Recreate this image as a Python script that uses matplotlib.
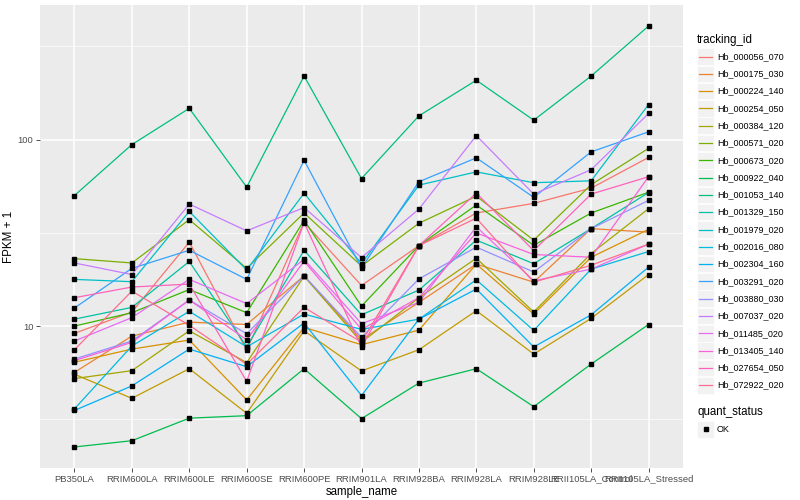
import numpy as np
import matplotlib
matplotlib.use("Agg")
import matplotlib.pyplot as plt
from matplotlib.patches import Rectangle
from matplotlib.lines import Line2D

plt.rcParams['font.family'] = ['Liberation Sans', 'DejaVu Sans']

samples = ["PB350LA", "RRIM600LA", "RRIM600LE", "RRIM600SE", "RRIM600PE",
           "RRIM901LA", "RRIM928BA", "RRIM928LA", "RRIM928LE",
           "RRII105LA_Control", "RRII105LA_Stressed"]

tracking_ids = ["Hb_000056_070", "Hb_000175_030", "Hb_000224_140", "Hb_000254_050",
                "Hb_000384_120", "Hb_000571_020", "Hb_000673_020", "Hb_000922_040",
                "Hb_001053_140", "Hb_001329_150", "Hb_001979_020", "Hb_002016_080",
                "Hb_002304_160", "Hb_003291_020", "Hb_003880_030", "Hb_007037_020",
                "Hb_011485_020", "Hb_013405_140", "Hb_027654_050", "Hb_072922_020"]

Hb_000056_070 = [9.14, 11.9, 28.2, 7.44, 36.0, 16.5, 27.0, 40.4, 45.5, 54.9, 80.2]
Hb_000175_030 = [5.65, 8.84, 10.5, 10.2, 18.6, 8.45, 13.4, 21.5, 17.2, 33.3, 31.9]
Hb_000224_140 = [6.40, 7.53, 8.42, 4.02, 9.84, 7.95, 9.52, 21.5, 11.6, 23.4, 33.0]
Hb_000254_050 = [5.52, 4.10, 5.91, 3.41, 9.44, 5.75, 7.47, 12.1, 7.08, 11.0, 18.9]
Hb_000384_120 = [5.23, 5.77, 9.44, 6.37, 18.5, 8.19, 14.2, 23.1, 11.9, 24.5, 42.6]
Hb_000571_020 = [23.0, 21.8, 37.2, 20.4, 40.4, 21.0, 35.6, 49.7, 28.9, 57.3, 89.7]
Hb_000673_020 = [10.0, 11.8, 15.7, 11.8, 36.9, 12.8, 27.0, 44.6, 27.1, 40.4, 52.2]
Hb_000922_040 = [2.25, 2.43, 3.21, 3.31, 5.91, 3.19, 4.95, 5.91, 3.70, 6.26, 10.2]
Hb_001053_140 = [50.1, 94.0, 147.0, 55.6, 219.0, 61.8, 134.0, 208.0, 127.0, 219.0, 406.0]
Hb_001329_150 = [10.9, 12.6, 22.2, 7.74, 25.5, 11.5, 15.6, 28.9, 21.6, 33.3, 52.0]
Hb_001979_020 = [17.8, 17.3, 41.2, 20.0, 51.6, 21.6, 57.0, 67.1, 58.7, 60.1, 154.0]
Hb_002016_080 = [3.60, 7.82, 12.0, 7.74, 11.6, 9.6, 10.9, 17.7, 9.48, 20.2, 25.1]
Hb_002304_160 = [3.53, 4.78, 7.53, 6.06, 10.4, 4.24, 10.9, 15.8, 7.73, 11.5, 20.7]
Hb_003291_020 = [12.5, 20.4, 25.5, 17.8, 77.4, 20.5, 59.4, 79.8, 49.0, 85.9, 110.0]
Hb_003880_030 = [6.66, 8.32, 13.8, 9.1, 18.6, 8.7, 17.9, 26.5, 19.5, 33.3, 47.2]
Hb_007037_020 = [21.8, 18.9, 45.1, 32.4, 43.2, 23.3, 42.4, 105.0, 51.0, 68.9, 138.0]
Hb_011485_020 = [8.32, 11.1, 17.8, 13.2, 22.8, 10.3, 13.4, 34.1, 17.5, 20.2, 27.5]
Hb_013405_140 = [6.53, 8.18, 13.8, 8.45, 22.3, 9.6, 14.2, 31.6, 24.2, 23.4, 63.2]
Hb_027654_050 = [14.2, 16.2, 16.8, 5.06, 35.9, 7.73, 27.0, 51.6, 25.4, 51.0, 63.2]
Hb_072922_020 = [7.47, 15.4, 10.1, 6.24, 12.6, 8.2, 27.0, 37.9, 17.2, 21.2, 27.5]

series = [Hb_000056_070, Hb_000175_030, Hb_000224_140, Hb_000254_050, Hb_000384_120,
          Hb_000571_020, Hb_000673_020, Hb_000922_040, Hb_001053_140, Hb_001329_150,
          Hb_001979_020, Hb_002016_080, Hb_002304_160, Hb_003291_020, Hb_003880_030,
          Hb_007037_020, Hb_011485_020, Hb_013405_140, Hb_027654_050, Hb_072922_020]

colors = ["#F8766D", "#EA8331", "#D89000", "#C09B00", "#A3A500", "#7CAE00", "#39B600",
          "#00BB4E", "#00BF7D", "#00C1A3", "#00BFC4", "#00BAE0", "#00B0F6", "#35A2FF",
          "#9590FF", "#C77CFF", "#E76BF3", "#FA62DB", "#FF62BC", "#FF6C91"]

W, H = 800, 500
fig = plt.figure(figsize=(8, 5), dpi=100)
pl, pr, pt, pb = 40, 683, 5, 468
ax = fig.add_axes([pl / W, 1 - pb / H, (pr - pl) / W, (pb - pt) / H])
ax.set_facecolor("#EBEBEB")
for s in ax.spines.values():
    s.set_visible(False)

x = np.arange(len(samples))
for vals, c in zip(series, colors):
    ax.plot(x, vals, color=c, lw=0.9, zorder=3)
for vals in series:
    ax.plot(x, vals, ls="none", marker="s", ms=2.5, color="black", zorder=4)

ax.set_yscale("log")
lo, hi = np.log10(2.25), np.log10(406)
pad = 0.05 * (hi - lo)
ax.set_ylim(10 ** (lo - pad), 10 ** (hi + pad))
ax.set_xlim(-0.6, len(samples) - 0.4)

ax.set_yticks([10, 100])
ax.set_yticklabels(["10", "100"])
ax.set_yticks([10 ** 0.5, 10 ** 1.5, 10 ** 2.5], minor=True)
ax.yaxis.set_minor_formatter(matplotlib.ticker.NullFormatter())
ax.set_xticks(x)
ax.set_xticklabels(samples)
ax.grid(True, which="major", color="white", lw=1.1, zorder=0)
ax.grid(True, which="minor", axis="y", color="white", lw=0.5, zorder=0)
ax.set_axisbelow(True)
ax.tick_params(axis="both", which="major", length=2.8, width=0.6, color="#333333",
               labelsize=6.8, labelcolor="#4D4D4D", pad=2)
ax.tick_params(axis="y", which="minor", length=0)
ax.set_xlabel("sample_name", fontsize=8.3, labelpad=2)
ax.set_ylabel("FPKM + 1", fontsize=8.3, labelpad=2)

# legend
lax = fig.add_axes([0, 0, 1, 1], facecolor="none")
lax.set_xlim(0, W)
lax.set_ylim(H, 0)
lax.axis("off")
lax.text(697, 40, "tracking_id", fontsize=8.3, va="center", ha="left")
y0, dy = 56.5, 17.3
for i, (tid, c) in enumerate(zip(tracking_ids, colors)):
    yc = y0 + i * dy
    lax.add_patch(Rectangle((697, yc - 8.3), 17, 16.6, facecolor="#F2F2F2", edgecolor="white", lw=0.5))
    lax.add_line(Line2D([699, 712], [yc, yc], color=c, lw=0.9))
    lax.text(717, yc, tid, fontsize=6.5, va="center", ha="left")
lax.text(697, 412, "quant_status", fontsize=8.3, va="center", ha="left")
lax.add_patch(Rectangle((697, 421), 17, 16.6, facecolor="#F2F2F2", edgecolor="white", lw=0.5))
lax.plot([705.5], [429.3], marker="s", ms=2.5, color="black")
lax.text(717, 429.3, "OK", fontsize=6.5, va="center", ha="left")

fig.savefig("out.png", dpi=100)
